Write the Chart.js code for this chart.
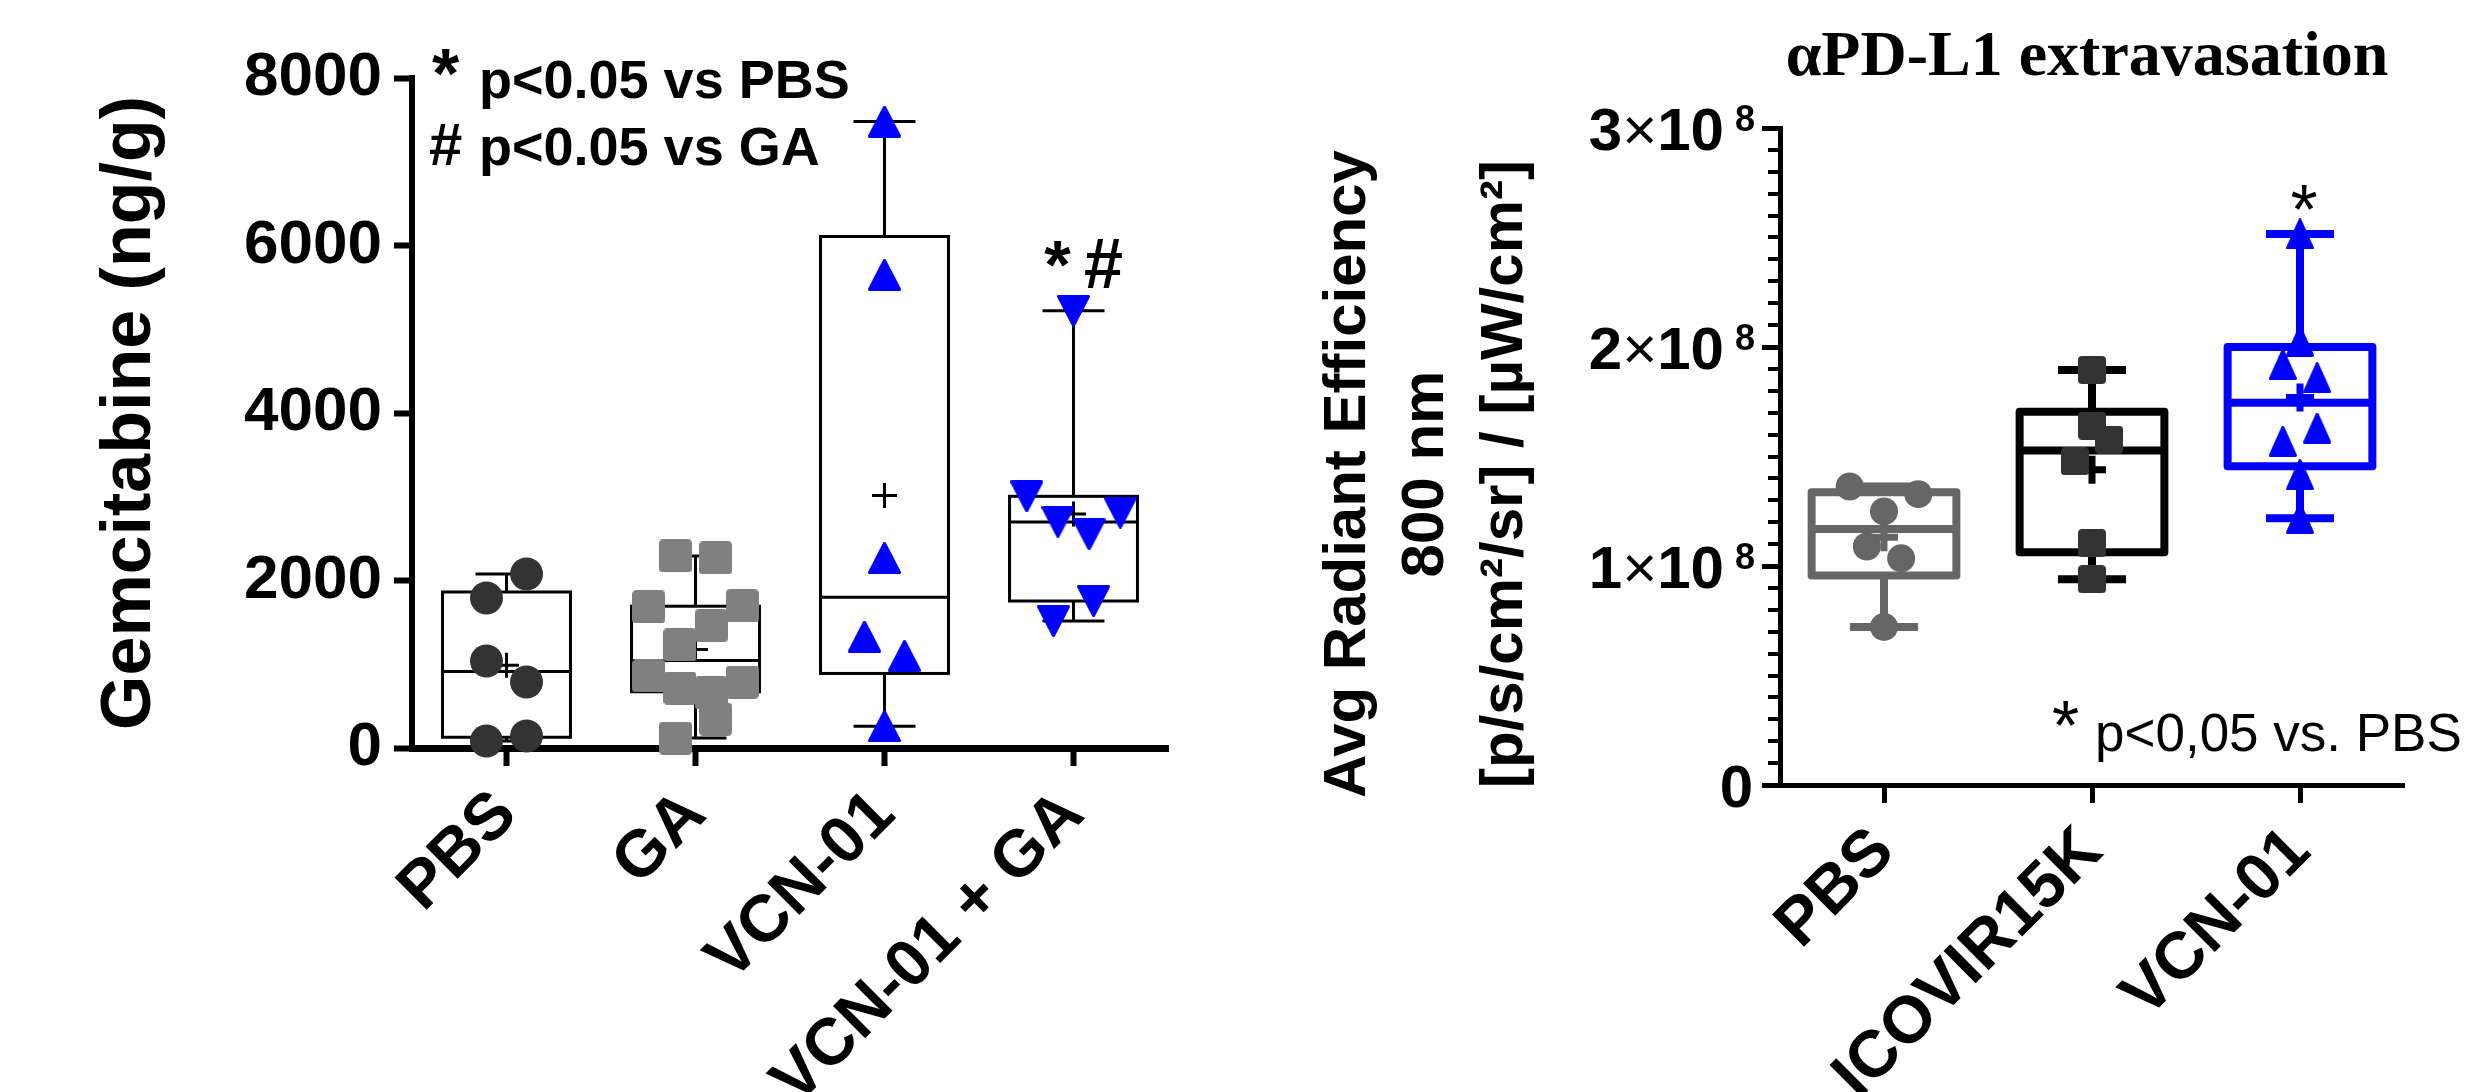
<!DOCTYPE html>
<html>
<head>
<meta charset="utf-8">
<script src="https://cdn.jsdelivr.net/npm/chart.js@4.4.1/dist/chart.umd.min.js"></script>
<style>
  html, body { margin: 0; padding: 0; background: #fff; }
  #wrap { position: relative; width: 2474px; height: 1092px; overflow: hidden; background: #fff; }
  #gemChart { position: absolute; left: 0; top: 0; }
  #pdChart { position: absolute; left: 1250px; top: 0; }
</style>
</head>
<body>
<div id="wrap">
  <canvas id="gemChart" width="1250" height="1092"></canvas>
  <canvas id="pdChart" width="1224" height="1092"></canvas>
</div>
<script>
// Left panel: gemcitabine in tumour (ng/g), one array per group
const gemGroups = ["PBS", "GA", "VCN-01", "VCN-01 + GA"];
const gemPBS = [84, 143, 1039, 788, 1791, 2078];
const gemGA = [119, 346, 860, 716, 657, 788, 1684, 1230, 1457, 1696, 2293, 2269];
const gemVCN = [7480, 5650, 2270, 1330, 1100, 260];
const gemVCNGA = [5220, 3005, 2700, 2550, 2810, 1515, 1755];
const gemTicks = [0, 2000, 4000, 6000, 8000];

// Right panel: aPD-L1 avg radiant efficiency
const pdGroups = ["PBS", "ICOVIR15K", "VCN-01"];
const pdPBS = [0.722e8, 1.089e8, 1.035e8, 1.363e8, 1.249e8, 1.328e8];
const pdICOVIR = [1.895e8, 1.641e8, 1.478e8, 1.577e8, 1.104e8, 0.939e8];
const pdVCN = [2.516e8, 2.027e8, 1.92e8, 1.86e8, 1.57e8, 1.63e8, 1.417e8, 1.218e8];
const pdTicks = [0, 1e8, 2e8, 3e8];

const SANS = "'Liberation Sans', Arial, Helvetica, sans-serif";
const SERIF = "'Liberation Serif', 'Times New Roman', serif";
Chart.defaults.font.family = SANS;
Chart.defaults.color = "#000";

// marker images (GraphPad-like rounded squares and triangles)
function makeMarker(shape, w, h, color) {
  const c = document.createElement("canvas");
  c.width = w; c.height = h;
  const g = c.getContext("2d");
  g.fillStyle = color; g.strokeStyle = color;
  g.lineJoin = "round"; g.lineWidth = 3;
  g.beginPath();
  if (shape === "square") {
    const r = 4;
    g.moveTo(r, 0); g.lineTo(w - r, 0); g.arcTo(w, 0, w, r, r);
    g.lineTo(w, h - r); g.arcTo(w, h, w - r, h, r);
    g.lineTo(r, h); g.arcTo(0, h, 0, h - r, r);
    g.lineTo(0, r); g.arcTo(0, 0, r, 0, r);
    g.closePath(); g.fill();
    return c;
  }
  const i = 1.5;
  if (shape === "up") {
    g.moveTo(w / 2, i); g.lineTo(w - i, h - i); g.lineTo(i, h - i);
  } else {
    g.moveTo(i, i); g.lineTo(w - i, i); g.lineTo(w / 2, h - i);
  }
  g.closePath(); g.fill(); g.stroke();
  return c;
}

// spread points that share a value band side by side (scatter "swarm")
function swarm(values, band, step, maxSpan) {
  const order = values.map((v, i) => i).sort((a, b) => values[a] - values[b]);
  const off = values.map(() => 0);
  let bin = [], start = null;
  const flush = () => {
    if (!bin.length) return;
    bin.sort((a, b) => a - b);
    const n = bin.length;
    const s = n > 1 ? Math.min(step, maxSpan / (n - 1)) : 0;
    bin.forEach((idx, k) => { off[idx] = (k - (n - 1) / 2) * s; });
    bin = [];
  };
  order.forEach(i => {
    if (start === null || values[i] - start > band) { flush(); start = values[i]; }
    bin.push(i);
  });
  flush();
  return off;
}

function boxStats(vals) {
  const s = [...vals].sort((a, b) => a - b);
  const n = s.length;
  const q = p => {
    const pos = Math.min(Math.max((n + 1) * p, 1), n);
    const lo = Math.floor(pos), hi = Math.min(lo + 1, n);
    return s[lo - 1] + (pos - lo) * (s[hi - 1] - s[lo - 1]);
  };
  return { min: s[0], q1: q(0.25), med: q(0.5), q3: q(0.75), max: s[n - 1],
           mean: s.reduce((a, b) => a + b, 0) / n };
}

function boxPlugin(id, groups, st) {
  return {
    id,
    beforeDatasetsDraw(chart) {
      const { ctx, scales: { x, y } } = chart;
      groups.forEach((vals, gi) => {
        const b = boxStats(vals);
        const cx = x.getPixelForValue(gi);
        const hw = x.getPixelForValue(gi + st.boxWidth / 2) - cx;
        const cw = x.getPixelForValue(gi + st.capWidth / 2) - cx;
        const py = v => y.getPixelForValue(v);
        ctx.save();
        ctx.strokeStyle = st.colors[gi];
        ctx.lineWidth = st.lineWidth;
        ctx.lineJoin = st.join;
        ctx.beginPath();
        ctx.moveTo(cx, py(b.q3)); ctx.lineTo(cx, py(b.max));
        ctx.moveTo(cx - cw, py(b.max)); ctx.lineTo(cx + cw, py(b.max));
        ctx.moveTo(cx, py(b.q1)); ctx.lineTo(cx, py(b.min));
        ctx.moveTo(cx - cw, py(b.min)); ctx.lineTo(cx + cw, py(b.min));
        ctx.stroke();
        ctx.strokeRect(cx - hw, py(b.q3), 2 * hw, py(b.q1) - py(b.q3));
        ctx.beginPath();
        ctx.moveTo(cx - hw, py(b.med)); ctx.lineTo(cx + hw, py(b.med));
        ctx.stroke();
        const m = st.meanSize / 2, ym = py(b.mean);
        ctx.lineWidth = st.meanWidth;
        ctx.beginPath();
        ctx.moveTo(cx - m, ym); ctx.lineTo(cx + m, ym);
        ctx.moveTo(cx, ym - m); ctx.lineTo(cx, ym + m);
        ctx.stroke();
        ctx.restore();
      });
    }
  };
}

function pointSet(values, gi, sw, style) {
  const off = swarm(values, sw.band, sw.step, sw.maxSpan);
  return {
    data: values.map((v, i) => ({ x: gi + off[i], y: v })),
    pointStyle: style.img || "circle",
    pointRadius: style.r,
    backgroundColor: style.color,
    borderWidth: 0,
    clip: false
  };
}

// ---------- left chart ----------
const gemSwarm = { band: 496, step: 0.212, maxSpan: 0.495 };
const gemNotes = {
  id: "gemNotes",
  afterDraw(chart) {
    const { ctx, chartArea: a, scales: { x, y } } = chart;
    ctx.save();
    ctx.fillStyle = "#000";
    ctx.save();
    ctx.translate(150, (a.top + a.bottom) / 2);
    ctx.rotate(-Math.PI / 2);
    ctx.textAlign = "center";
    ctx.font = `bold 70px ${SANS}`;
    ctx.fillText("Gemcitabine (ng/g)", 0, 0);
    ctx.restore();

    ctx.textAlign = "left";
    ctx.font = `bold 70px ${SANS}`;
    ctx.fillText("*", 432, 98);
    ctx.font = `bold 54px ${SANS}`;
    ctx.fillText("p<0.05 vs PBS", 479, 98);
    ctx.fillText("p<0.05 vs GA", 479, 165);
    ctx.font = `bold 60px ${SANS}`;
    ctx.fillText("#", 429, 165);

    const gx = x.getPixelForValue(3);
    const gy = y.getPixelForValue(Math.max(...gemVCNGA)) - 23;
    ctx.textAlign = "center";
    ctx.font = `bold 68px ${SANS}`;
    ctx.fillText("*", gx - 16, gy);
    ctx.font = `bold 70px ${SANS}`;
    ctx.fillText("#", gx + 30, gy);
    ctx.restore();
  }
};

new Chart(document.getElementById("gemChart"), {
  type: "scatter",
  data: {
    datasets: [
      pointSet(gemPBS, 0, gemSwarm, { r: 16.5, color: "#333333" }),
      pointSet(gemGA, 1, gemSwarm, { r: 17, color: "#808080", img: makeMarker("square", 33, 33, "#808080") }),
      pointSet(gemVCN, 2, gemSwarm, { r: 17, color: "#0000ff", img: makeMarker("up", 33, 32, "#0000ff") }),
      pointSet(gemVCNGA, 3, gemSwarm, { r: 17, color: "#0000ff", img: makeMarker("down", 33, 32, "#0000ff") })
    ]
  },
  options: {
    responsive: false,
    animation: false,
    events: [],
    layout: { padding: { left: 0, top: 78, right: 82, bottom: 0 } },
    plugins: { legend: { display: false }, tooltip: { enabled: false } },
    scales: {
      x: {
        type: "linear", min: -0.5, max: 3.5,
        afterBuildTicks: s => { s.ticks = gemGroups.map((_, i) => ({ value: i })); },
        afterFit: s => { s.height = 344; },
        ticks: {
          callback: v => gemGroups[v],
          font: { size: 66, weight: "bold" },
          minRotation: 45, maxRotation: 45, autoSkip: false, padding: 10
        },
        grid: { drawOnChartArea: false, tickLength: 18, tickWidth: 6, tickColor: "#000" },
        border: { color: "#000", width: 7 }
      },
      y: {
        min: 0, max: 8000,
        afterBuildTicks: s => { s.ticks = gemTicks.map(v => ({ value: v })); },
        afterFit: s => { s.width = 412; },
        ticks: { callback: v => String(v), font: { size: 62, weight: "bold" }, padding: 12 },
        grid: { drawOnChartArea: false, tickLength: 18, tickWidth: 6, tickColor: "#000" },
        border: { color: "#000", width: 6 }
      }
    }
  },
  plugins: [
    boxPlugin("gemBoxes", [gemPBS, gemGA, gemVCN, gemVCNGA], {
      boxWidth: 0.677, capWidth: 0.328, lineWidth: 3, join: "miter",
      meanSize: 25, meanWidth: 3, colors: ["#000", "#000", "#000", "#000"]
    }),
    gemNotes
  ]
});

// ---------- right chart ----------
const pdSwarm = { band: 0.14e8, step: 0.165, maxSpan: 0.5 };
const pdColors = ["#666666", "#000000", "#0000ff"];
const pdNotes = {
  id: "pdNotes",
  afterDraw(chart) {
    const { ctx, chartArea: a, scales: { x, y } } = chart;
    ctx.save();
    ctx.fillStyle = "#000";
    ctx.textBaseline = "alphabetic";

    // minor ticks every 1e7
    ctx.strokeStyle = "#000";
    ctx.lineWidth = 4;
    ctx.beginPath();
    for (let k = 1; k < 30; k++) {
      if (k % 10 === 0) continue;
      const yy = Math.round(y.getPixelForValue(k * 1e7));
      ctx.moveTo(a.left - 12, yy); ctx.lineTo(a.left, yy);
    }
    ctx.stroke();

    // tick labels N x 10^8
    const xr = a.left - 25;
    pdTicks.forEach(v => {
      const yy = y.getPixelForValue(v);
      ctx.textAlign = "left";
      if (v === 0) {
        ctx.font = `bold 60px ${SANS}`;
        const w = ctx.measureText("0").width;
        ctx.fillText("0", xr - 2 - w, yy + 22);
        return;
      }
      const exp = Math.floor(Math.log10(v));
      const mant = String(Math.round(v / Math.pow(10, exp)));
      ctx.font = `bold 36px ${SANS}`;
      const supW = ctx.measureText(String(exp)).width;
      ctx.font = `bold 60px ${SANS}`;
      const tenW = ctx.measureText("10").width;
      const mantW = ctx.measureText(mant).width;
      ctx.font = `60px ${SANS}`;
      const timesW = ctx.measureText("\u00d7").width;
      let x0 = xr - supW - 11 - tenW - timesW - mantW;
      ctx.font = `bold 60px ${SANS}`;
      ctx.fillText(mant, x0, yy + 22); x0 += mantW;
      ctx.font = `60px ${SANS}`;
      ctx.fillText("\u00d7", x0, yy + 22); x0 += timesW;
      ctx.font = `bold 60px ${SANS}`;
      ctx.fillText("10", x0, yy + 22); x0 += tenW + 11;
      ctx.font = `bold 36px ${SANS}`;
      ctx.fillText(String(exp), x0, yy + 3);
    });

    // y title, three lines
    const yTitle = ["Avg Radiant Efficiency", "800 nm", "[p/s/cm\u00b2/sr] / [\u00b5W/cm\u00b2]"];
    const base = [115, 193, 272];
    ctx.font = `bold 60px ${SANS}`;
    ctx.textAlign = "center";
    yTitle.forEach((t, i) => {
      ctx.save();
      ctx.translate(base[i], 474);
      ctx.rotate(-Math.PI / 2);
      ctx.fillText(t, 0, 0);
      ctx.restore();
    });

    // title
    ctx.font = `bold 64px ${SERIF}`;
    ctx.fillText("\u03b1PD-L1 extravasation", 837, 75);

    // significance
    const vx = x.getPixelForValue(2);
    const vy = y.getPixelForValue(Math.max(...pdVCN));
    ctx.font = `70px ${SANS}`;
    ctx.fillText("*", vx + 4, vy);
    ctx.textAlign = "left";
    ctx.fillText("*", 802, 750);
    ctx.font = `53px ${SANS}`;
    ctx.fillText("p<0,05 vs. PBS", 845, 751);
    ctx.restore();
  }
};

new Chart(document.getElementById("pdChart"), {
  type: "scatter",
  data: {
    datasets: [
      pointSet(pdPBS, 0, pdSwarm, { r: 14, color: "#666666" }),
      pointSet(pdICOVIR, 1, pdSwarm, { r: 14, color: "#333333", img: makeMarker("square", 28, 28, "#333333") }),
      pointSet(pdVCN, 2, pdSwarm, { r: 14, color: "#0000ff", img: makeMarker("up", 28, 31, "#0000ff") })
    ]
  },
  options: {
    responsive: false,
    animation: false,
    events: [],
    layout: { padding: { left: 0, top: 128, right: 70, bottom: 0 } },
    plugins: { legend: { display: false }, tooltip: { enabled: false } },
    scales: {
      x: {
        type: "linear", min: -0.5, max: 2.5,
        afterBuildTicks: s => { s.ticks = pdGroups.map((_, i) => ({ value: i })); },
        afterFit: s => { s.height = 307; },
        ticks: {
          callback: v => pdGroups[v],
          font: { size: 66, weight: "bold" },
          minRotation: 45, maxRotation: 45, autoSkip: false, padding: 10
        },
        grid: { drawOnChartArea: false, tickLength: 18, tickWidth: 5, tickColor: "#000" },
        border: { color: "#000", width: 5 }
      },
      y: {
        min: 0, max: 3e8,
        afterBuildTicks: s => { s.ticks = pdTicks.map(v => ({ value: v })); },
        afterFit: s => { s.width = 530; },
        ticks: { display: false },
        grid: { drawOnChartArea: false, tickLength: 18, tickWidth: 5, tickColor: "#000" },
        border: { color: "#000", width: 5 }
      }
    }
  },
  plugins: [
    boxPlugin("pdBoxes", [pdPBS, pdICOVIR, pdVCN], {
      boxWidth: 0.696, capWidth: 0.327, lineWidth: 8, join: "round",
      meanSize: 28, meanWidth: 7, colors: pdColors
    }),
    pdNotes
  ]
});
</script>
</body>
</html>
